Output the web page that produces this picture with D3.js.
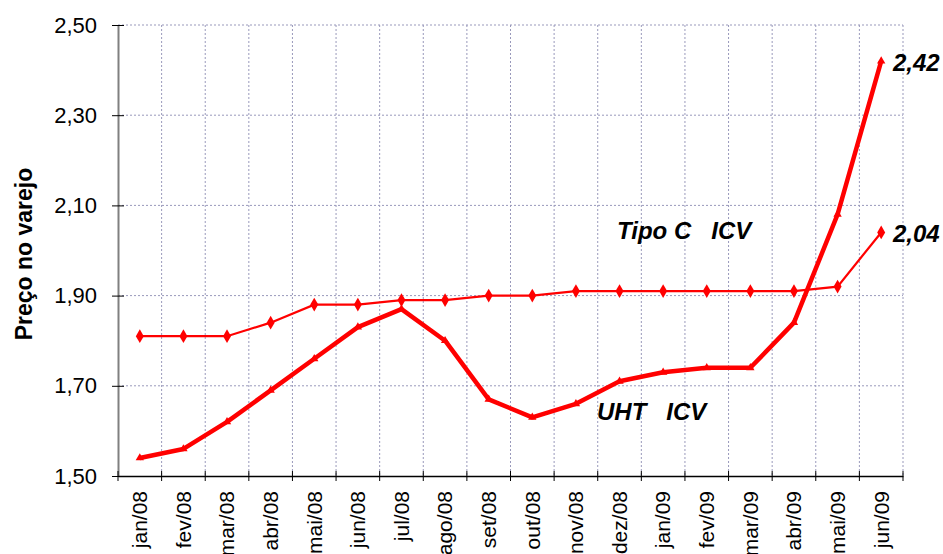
<!DOCTYPE html>
<html>
<head>
<meta charset="utf-8">
<script src="https://cdn.jsdelivr.net/npm/d3@7"></script>
<style>
  body { margin: 0; background: #fff; }
  svg { font-family: "Liberation Sans", Arial, sans-serif; }
</style>
</head>
<body>
<div id="chart"></div>
<script>
var months = ["jan/08", "fev/08", "mar/08", "abr/08", "mai/08", "jun/08", "jul/08", "ago/08", "set/08",
  "out/08", "nov/08", "dez/08", "jan/09", "fev/09", "mar/09", "abr/09", "mai/09", "jun/09"];
var tipoC = [1.81, 1.81, 1.81, 1.84, 1.88, 1.88, 1.89, 1.89, 1.90, 1.90, 1.91, 1.91, 1.91, 1.91, 1.91, 1.91, 1.92, 2.04];
var uht = [1.54, 1.56, 1.62, 1.69, 1.76, 1.83, 1.87, 1.80, 1.67, 1.63, 1.66, 1.71, 1.73, 1.74, 1.74, 1.84, 2.08, 2.42];
var yTicks = [1.50, 1.70, 1.90, 2.10, 2.30, 2.50];

var width = 943, height = 554;
var margin = {left: 118, right: 40, top: 25, bottom: 78};
var red = "#ff0000";
var fmt = function(v) { return d3.format(".2f")(v).replace(".", ","); };

var svg = d3.select("#chart").append("svg")
    .attr("width", width)
    .attr("height", height);

var x = d3.scaleBand().domain(months).range([margin.left, width - margin.right]);
var y = d3.scaleLinear().domain([1.5, 2.5]).range([height - margin.bottom, margin.top]);

// grid
var grid = svg.append("g").attr("stroke", "#9999bb").attr("stroke-width", 1)
    .attr("stroke-dasharray", "2,2");
grid.selectAll(".hg").data(yTicks.slice(1)).enter().append("line")
  .attr("x1", margin.left).attr("x2", width - margin.right)
  .attr("y1", function(d) { return y(d); }).attr("y2", function(d) { return y(d); });
grid.selectAll(".vg").data(months.slice(1).concat(["end"])).enter().append("line")
  .attr("x1", function(d, i) { return margin.left + (i + 1) * x.bandwidth(); })
  .attr("x2", function(d, i) { return margin.left + (i + 1) * x.bandwidth(); })
  .attr("y1", margin.top).attr("y2", height - margin.bottom);

// y axis
var yAxis = svg.append("g")
    .attr("transform", "translate(" + margin.left + ",0)")
    .call(d3.axisLeft(y).tickValues(yTicks).tickFormat(fmt).tickSize(6).tickSizeOuter(0));
yAxis.select(".domain").attr("stroke", "#808080").attr("stroke-width", 2);
yAxis.selectAll(".tick line").attr("stroke", "#000").attr("x2", 6).attr("x1", -6);
yAxis.selectAll("text").attr("font-size", 22).attr("fill", "#000").attr("x", -21)
  .attr("font-family", "Liberation Sans, Arial, sans-serif");

// x axis
var xAxis = svg.append("g")
    .attr("transform", "translate(0," + (height - margin.bottom) + ")")
    .call(d3.axisBottom(x).tickSize(0).tickSizeOuter(0));
xAxis.select(".domain").attr("stroke", "#000").attr("stroke-width", 1.5);
xAxis.selectAll(".bt").data(months.concat(["end"])).enter().append("line")
  .attr("class", "bt")
  .attr("x1", function(d, i) { return margin.left + i * x.bandwidth(); })
  .attr("x2", function(d, i) { return margin.left + i * x.bandwidth(); })
  .attr("y1", -5).attr("y2", 5).attr("stroke", "#000");
xAxis.selectAll(".tick text")
  .attr("font-size", 21).attr("fill", "#000")
  .attr("font-family", "Liberation Sans, Arial, sans-serif")
  .attr("text-anchor", "end")
  .attr("transform", "rotate(-90)")
  .attr("x", -15).attr("y", 0).attr("dy", "0.35em");

// y title
svg.append("text")
  .attr("transform", "translate(32,254) rotate(-90)")
  .attr("text-anchor", "middle")
  .attr("font-size", 23).attr("font-weight", "bold")
  .text("Preço no varejo");

var cx = function(d, i) { return x(months[i]) + x.bandwidth() / 2; };
var line = d3.line().x(cx).y(function(d) { return y(d); });

// Tipo C
svg.append("path").datum(tipoC).attr("d", line)
  .attr("fill", "none").attr("stroke", red).attr("stroke-width", 2.2);
svg.selectAll(".dia").data(tipoC).enter().append("path")
  .attr("d", d3.symbol(d3.symbolDiamond, 55))
  .attr("transform", function(d, i) { return "translate(" + cx(d, i) + "," + y(d) + ")"; })
  .attr("fill", red);

// UHT
svg.append("path").datum(uht).attr("d", line)
  .attr("fill", "none").attr("stroke", red).attr("stroke-width", 4.5).attr("stroke-linejoin", "round");
svg.selectAll(".tri").data(uht).enter().append("path")
  .attr("d", d3.symbol(d3.symbolTriangle, 30))
  .attr("transform", function(d, i) { return "translate(" + cx(d, i) + "," + y(d) + ")"; })
  .attr("fill", red);

// labels
var lab = svg.append("g").attr("font-size", 24).attr("font-weight", "bold").attr("font-style", "italic");
lab.append("text").attr("x", 617).attr("y", 239).attr("xml:space", "preserve").text("Tipo C   ICV");
lab.append("text").attr("x", 597).attr("y", 420).attr("xml:space", "preserve").text("UHT   ICV");
lab.append("text").attr("x", 893).attr("y", 71).text(fmt(uht[uht.length - 1]));
lab.append("text").attr("x", 893).attr("y", 242).text(fmt(tipoC[tipoC.length - 1]));
</script>
</body>
</html>
